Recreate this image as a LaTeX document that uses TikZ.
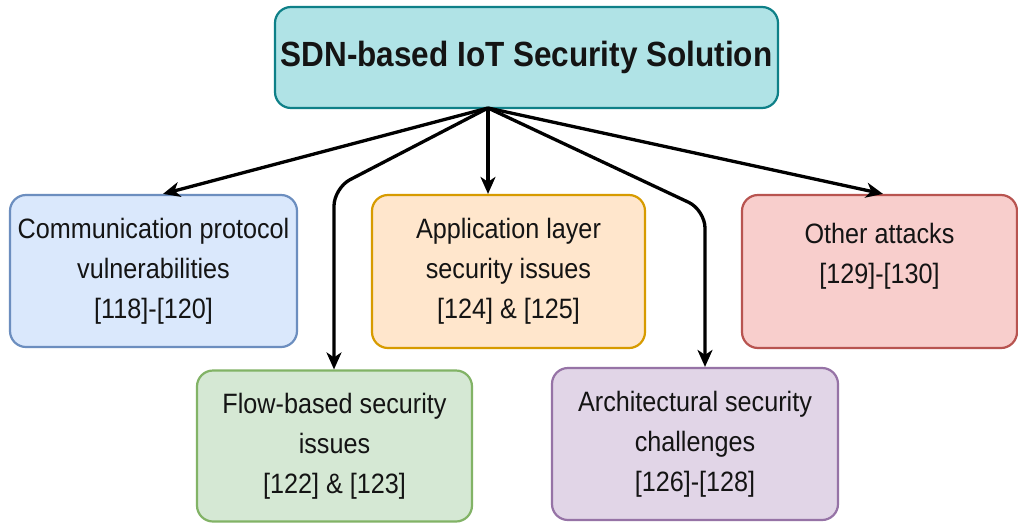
\documentclass[tikz,border=0pt]{standalone}
\usepackage{fontspec}
\newfontfamily\libsans[FakeStretch=0.9]{Liberation Sans}
\usetikzlibrary{arrows.meta}
\definecolor{tealfill}{HTML}{B0E3E6}
\definecolor{tealline}{HTML}{0E8088}
\definecolor{bluefill}{HTML}{DAE8FC}
\definecolor{blueline}{HTML}{6C8EBF}
\definecolor{greenfill}{HTML}{D5E8D4}
\definecolor{greenline}{HTML}{82B366}
\definecolor{orangefill}{HTML}{FFE6CC}
\definecolor{orangeline}{HTML}{D79B00}
\definecolor{purplefill}{HTML}{E1D5E7}
\definecolor{purpleline}{HTML}{9673A6}
\definecolor{redfill}{HTML}{F8CECC}
\definecolor{redline}{HTML}{B85450}
\definecolor{txt}{HTML}{141414}
\tikzset{
  box/.style={rectangle, rounded corners=16pt, line width=2.2pt, align=center,
    text=txt, inner sep=0pt, font=\libsans\fontsize{28}{40}\selectfont},
  conn/.style={line width=3.3pt, black, rounded corners=18pt,
    -{Stealth[length=17pt,width=15pt,inset=5pt]}},
}
\begin{document}
\begin{tikzpicture}[x=1pt,y=-1pt]
\useasboundingbox[fill=white] (0,0) rectangle (1018,523);
\node[box, fill=tealfill, draw=tealline, minimum width=503pt, minimum height=101pt,
  font=\libsans\bfseries\fontsize{35}{40}\selectfont] (top) at (526.5,57.5)
  {SDN-based IoT Security Solution};
\node[box, fill=bluefill, draw=blueline, minimum width=287pt, minimum height=152pt] (comm) at (153.5,271)
  {Communication protocol\\vulnerabilities\\{}[118]-[120]};
\node[box, fill=greenfill, draw=greenline, minimum width=275pt, minimum height=151pt] (flow) at (334.5,446)
  {Flow-based security\\issues\\{}[122] \& [123]};
\node[box, fill=orangefill, draw=orangeline, minimum width=273pt, minimum height=153pt] (app) at (508.5,271.5)
  {Application layer\\security issues\\{}[124] \& [125]};
\node[box, fill=purplefill, draw=purpleline, minimum width=286pt, minimum height=152pt] (arch) at (695,444)
  {Architectural security\\challenges\\{}[126]-[128]};
\node[box, fill=redfill, draw=redline, minimum width=275pt, minimum height=153pt] (other) at (879.5,271.5) {};
\node[box, draw=none, fill=none] (othertxt) at (879.5,256)
  {Other attacks\\{}[129]-[130]};
\coordinate (src) at (488,108);
\coordinate (x1) at (163,0);
\coordinate (c1) at (334,188);
\coordinate (c2) at (705,210);
\coordinate (x5) at (883,0);
\draw[conn] (src) -- (comm.north -| x1);
\draw[conn] (src) -- (c1) -- (flow.north -| c1);
\draw[conn] (src) -- (app.north -| src);
\draw[conn] (src) -- (c2) -- (arch.north -| c2);
\draw[conn] (src) -- (other.north -| x5);
\end{tikzpicture}
\end{document}
